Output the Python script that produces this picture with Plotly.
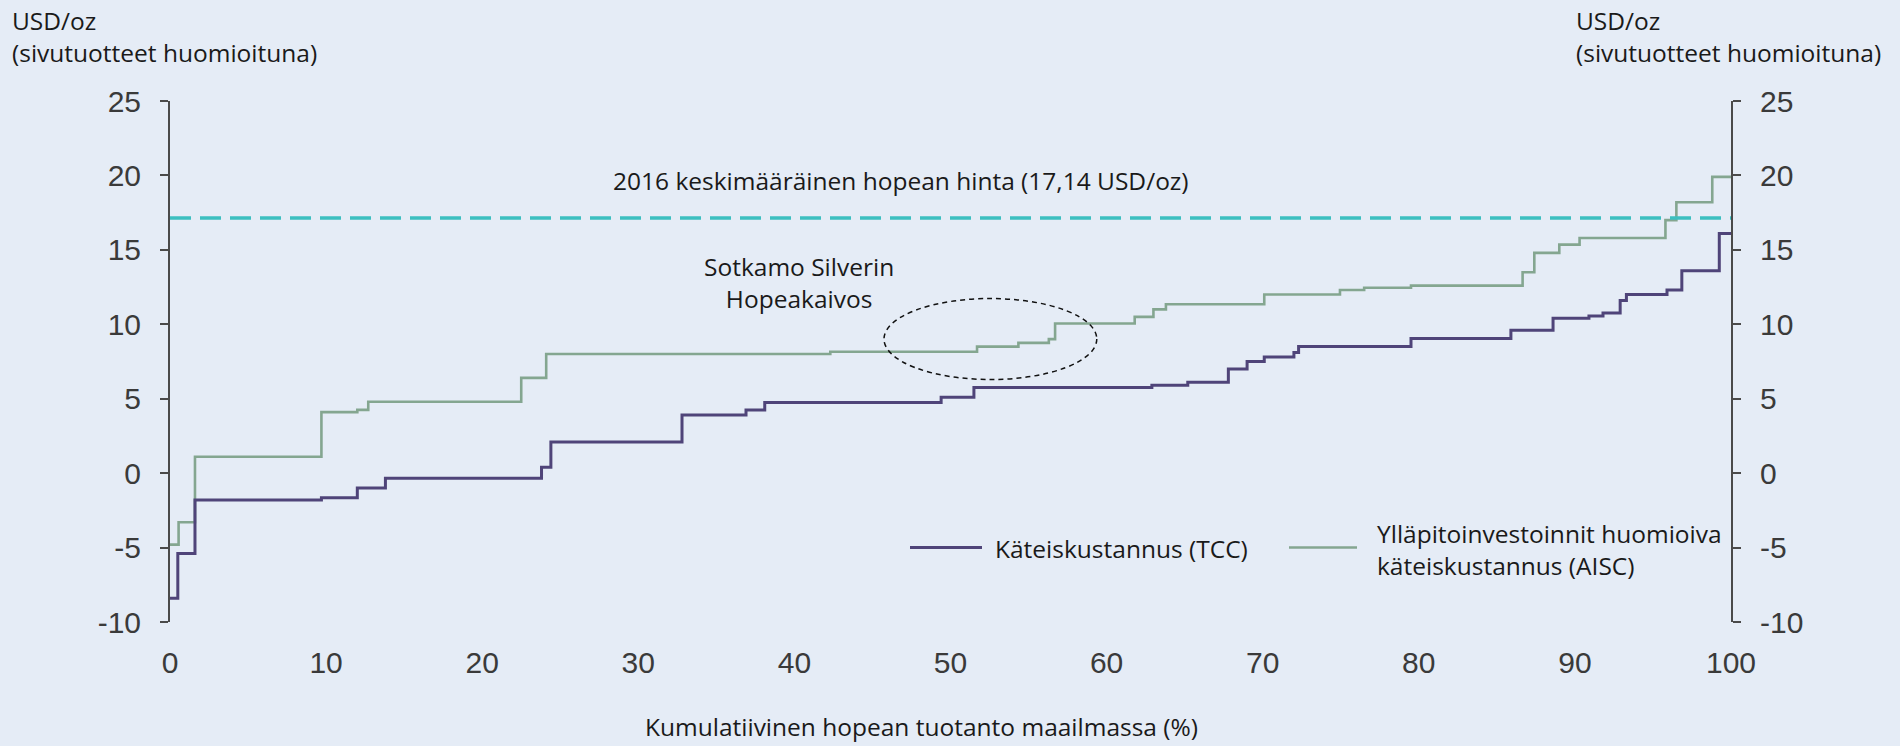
import plotly.graph_objects as go

# --- Données ----------------------------------------------------------------
# Käteiskustannus (TCC) : début de chaque palier (% cumulé) et niveau (USD/oz)
TCC_X = [0, 0.5, 1.6, 9.7, 12.0, 13.8, 23.8, 24.4, 32.8, 36.9, 38.1, 49.4,
         51.5, 62.9, 65.2, 67.8, 69.0, 70.1, 72.0, 72.3, 79.5, 85.9, 88.6,
         90.9, 91.8, 92.9, 93.3, 95.9, 96.85, 99.25, 100]
TCC_Y = [-8.4, -5.4, -1.8, -1.65, -1.0, -0.35, 0.4, 2.1, 3.9, 4.25, 4.75, 5.1,
         5.75, 5.9, 6.1, 7.0, 7.5, 7.8, 8.1, 8.5, 9.05, 9.6, 10.4,
         10.55, 10.75, 11.6, 12.0, 12.3, 13.6, 16.1, 16.1]

# Ylläpitoinvestoinnit huomioiva käteiskustannus (AISC)
AISC_X = [0, 0.55, 1.6, 9.7, 12.0, 12.7, 22.5, 24.1, 42.3, 51.7, 54.35, 56.3,
          56.7, 61.8, 63.0, 63.8, 70.1, 74.95, 76.5, 79.5, 86.65, 87.4, 89.0,
          90.3, 95.8, 96.5, 98.8, 100]
AISC_Y = [-4.8, -3.3, 1.1, 4.1, 4.25, 4.8, 6.4, 8.0, 8.15, 8.5, 8.75, 9.0,
          10.05, 10.5, 11.0, 11.35, 12.0, 12.3, 12.45, 12.6, 13.5, 14.8, 15.35,
          15.8, 17.0, 18.2, 19.9, 19.9]

SILVER_PRICE = 17.14
PRICE_X = [0, 100]

X_TICKS = [0, 10, 20, 30, 40, 50, 60, 70, 80, 90, 100]
Y_TICKS = [-10, -5, 0, 5, 10, 15, 20, 25]
Y_TICK_LABELS = ["-10", "-5", "0", "5", "10", "15", "20", "25"]
Y_RANGE = [-10, 25]

# ellipse « Sotkamo Silver » (coordonnées des données)
ELL_X = [45.74, 59.37]
ELL_Y = [6.29, 11.73]

# --- Mise en page --------------------------------------------------------------
W, H = 1900, 746
L, R, T, B = 170, 1731, 101, 622      # zone de tracé en pixels

BG = "#E5ECF6"
PURPLE = "#4f4479"
GREEN = "#84a690"
TEAL = "#3cbfc0"
AXIS = "#4a4a4a"
TXT = "#1a1a1a"
FONT = "Open Sans"
FS = 24.5
TICKFONT = dict(family="Liberation Sans", size=30, color="#3a3a3a")


def px(x):
    return (x - L) / (R - L)


def py(y):
    return (B - y) / (B - T)


fig = go.Figure()
fig.add_trace(go.Scatter(x=PRICE_X, y=[SILVER_PRICE] * len(PRICE_X), mode="lines",
                         yaxis="y2", showlegend=False, hoverinfo="skip",
                         line=dict(color=TEAL, width=3.5, dash="21px,9px")))
fig.add_trace(go.Scatter(x=AISC_X, y=AISC_Y, mode="lines", line_shape="hv",
                         name="AISC", showlegend=False,
                         line=dict(color=GREEN, width=2.6)))
fig.add_trace(go.Scatter(x=TCC_X, y=TCC_Y, mode="lines", line_shape="hv",
                         name="TCC", showlegend=False,
                         line=dict(color=PURPLE, width=3)))

yax = dict(range=Y_RANGE, tickvals=Y_TICKS, ticktext=Y_TICK_LABELS,
           showgrid=False, zeroline=False,
           showline=True, linecolor=AXIS, linewidth=2, ticks="outside",
           ticklen=8, tickwidth=2, tickcolor=AXIS, tickfont=TICKFONT,
           ticklabelstandoff=13)

fig.update_layout(
    width=W, height=H,
    margin=dict(l=L, r=W - R, t=T, b=H - B),
    paper_bgcolor=BG, plot_bgcolor=BG,
    font=dict(family=FONT, size=FS, color=TXT),
    showlegend=False,
    xaxis=dict(range=[0, 100], tickvals=X_TICKS, showgrid=False, zeroline=False,
               showline=False, ticks="", tickfont=TICKFONT, ticklabelstandoff=20),
    yaxis=dict(side="left", **yax),
    yaxis2=dict(side="right", overlaying="y", matches="y", **yax),
)

# ellipse autour de Sotkamo Silver
fig.add_shape(type="circle", xref="x", yref="y",
              x0=ELL_X[0], x1=ELL_X[1], y0=ELL_Y[0], y1=ELL_Y[1],
              line=dict(color="#111111", width=1.5, dash="5px,4px"))

ann = dict(showarrow=False, font=dict(family=FONT, size=FS, color=TXT))
fig.add_annotation(x=46.8, y=19.68, xref="x", yref="y",
                   xanchor="center", yanchor="middle",
                   text="2016 keskimääräinen hopean hinta (17,14 USD/oz)", **ann)
fig.add_annotation(x=40.3, y=12.79, xref="x", yref="y", align="center",
                   xanchor="center", yanchor="middle",
                   text="Sotkamo Silverin<br>Hopeakaivos", **ann)

# titres des axes
fig.add_annotation(x=px(10), y=py(2), xref="paper", yref="paper",
                   xanchor="left", yanchor="top", align="left",
                   text="USD/oz<br>(sivutuotteet huomioituna)", **ann)
fig.add_annotation(x=px(1574), y=py(2), xref="paper", yref="paper",
                   xanchor="left", yanchor="top", align="left",
                   text="USD/oz<br>(sivutuotteet huomioituna)", **ann)
fig.add_annotation(x=px(921), y=py(744), xref="paper", yref="paper",
                   xanchor="center", yanchor="bottom", borderpad=0,
                   text="Kumulatiivinen hopean tuotanto maailmassa (%)", **ann)

# légende dessinée à la main
fig.add_shape(type="line", xref="paper", yref="paper",
              x0=px(910), x1=px(982), y0=py(547.5), y1=py(547.5),
              line=dict(color=PURPLE, width=3))
fig.add_annotation(x=px(993), y=py(548), xref="paper", yref="paper",
                   xanchor="left", yanchor="middle",
                   text="Käteiskustannus (TCC)", **ann)
fig.add_shape(type="line", xref="paper", yref="paper",
              x0=px(1289), x1=px(1357), y0=py(547.5), y1=py(547.5),
              line=dict(color=GREEN, width=2.6))
fig.add_annotation(x=px(1375), y=py(549), xref="paper", yref="paper",
                   xanchor="left", yanchor="middle", align="left",
                   text="Ylläpitoinvestoinnit huomioiva<br>käteiskustannus (AISC)", **ann)

fig.write_html("out.html", config={"displayModeBar": False},
               post_script="document.body.style.margin='0';")
